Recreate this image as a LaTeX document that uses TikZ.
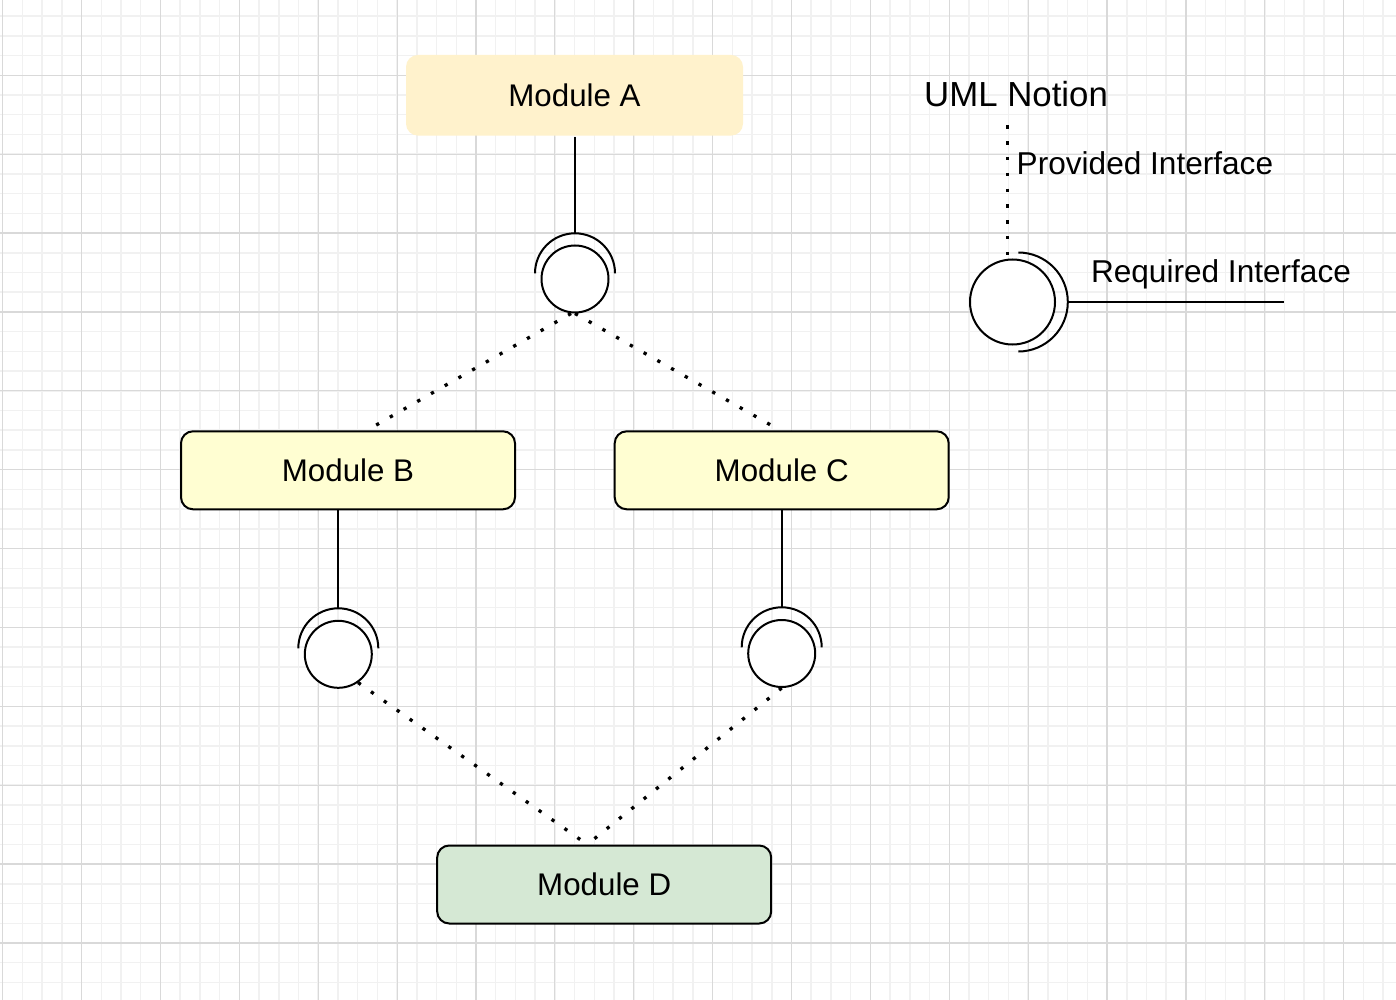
\documentclass[tikz,border=0pt]{standalone}
\usepackage{fontspec}
\setmainfont{Liberation Sans}
\usetikzlibrary{calc}
\definecolor{fillA}{HTML}{FFF2CC}
\definecolor{fillBC}{HTML}{FFFED2}
\definecolor{fillD}{HTML}{D5E8D4}
\definecolor{gridminor}{HTML}{F1F1F1}
\definecolor{gridmajor}{HTML}{D9D9D9}
\begin{document}
\begin{tikzpicture}[x=1pt,y=-1pt,
  minorgrid/.style={draw=gridminor, line width=1.5pt},
  majorgrid/.style={draw=gridmajor, line width=1.2pt},
  module/.style={rounded corners=12pt, minimum width=334pt, minimum height=78pt, draw=black, line width=2pt, inner sep=0pt, font=\fontsize{31.3}{37}\selectfont},
  ball/.style={circle, draw=black, line width=2pt, minimum size=67pt, inner sep=0pt, fill=white},
  wire/.style={line width=2pt, draw=black},
  dots/.style={line width=3.3pt, draw=black, dash pattern=on 3.3pt off 12.5pt},
  lbl/.style={inner sep=0pt, anchor=base west, font=\fontsize{31.6}{37}\selectfont}]
\useasboundingbox (0,0) rectangle (1396,1000);
\fill[white] (0,0) rectangle (1396,1000);
% grid
\foreach \k in {0,...,70} \draw[minorgrid] ({2.7+\k*19.72},0) -- ({2.7+\k*19.72},1000);
\foreach \k in {0,...,51} \draw[minorgrid] (0,{-3.6+\k*19.72}) -- (1396,{-3.6+\k*19.72});
\foreach \k in {0,...,17} \draw[majorgrid] ({2.7+\k*78.88},0) -- ({2.7+\k*78.88},1000);
\foreach \k in {0,...,13} \draw[majorgrid] (0,{-3.6+\k*78.88}) -- (1396,{-3.6+\k*78.88});

% modules
\node[module, draw=none, fill=fillA, minimum width=337pt, minimum height=80.7pt] (A) at (574.5,95.3) {Module A};
\node[module, fill=fillBC] (B) at (348,470.3) {Module B};
\node[module, fill=fillBC] (C) at (781.7,470.3) {Module C};
\node[module, fill=fillD] (D) at (604.2,884.5) {Module D};

% interface balls
\node[ball] (cA) at (575,279) {};
\node[ball] (cB) at (338.3,654.3) {};
\node[ball] (cC) at (781.7,653.5) {};
\node[ball, minimum size=85pt] (cL) at (1012.5,302) {};

% sockets
\coordinate (sA) at ($(cA.center)+(0,-45.7)$);
\coordinate (sB) at ($(cB.center)+(0,-46)$);
\coordinate (sC) at ($(cC.center)+(0,-46.2)$);
\draw[wire] ($(cA.center)+(-40,-5.7)$) arc[start angle=180, end angle=360, radius=40];
\draw[wire] ($(cB.center)+(-40,-6)$) arc[start angle=180, end angle=360, radius=40];
\draw[wire] ($(cC.center)+(-40,-6.2)$) arc[start angle=180, end angle=360, radius=40];
\draw[wire] ($(cL.center)+(5.8,-49.5)$) arc[start angle=-90, end angle=90, radius=49.5];

% solid connectors
\draw[wire] (sA |- A.south) -- (sA);
\draw[wire] (sB |- B.south) -- (sB);
\draw[wire] (sC |- C.south) -- (sC);

% dotted connectors
\draw[dots] ([xshift=-4pt]cA.south) -- ([xshift=19pt]B.north);
\draw[dots] (cA.south) -- ([xshift=-1.7pt]C.north);
\draw[dots] (cB.-55) -- ([xshift=-17pt]D.north);
\draw[dots] (cC.south) -- ([xshift=-17pt]D.north);

% legend
\coordinate (lt) at (1007.7,125.5);
\draw[dots] (lt) -- (lt |- cL.north);
\coordinate (rq) at (1284.3,302);
\draw[wire] ($(cL.center)+(55.3,0)$) -- (rq);
\node[lbl, font=\fontsize{34.8}{40}\selectfont] (uml) at (924,106.7) {UML Notion};
\node[lbl] (prov) at (1016.5,175) {Provided Interface};
\node[lbl] (req) at (1090.8,282.7) {Required Interface};
\end{tikzpicture}
\end{document}
